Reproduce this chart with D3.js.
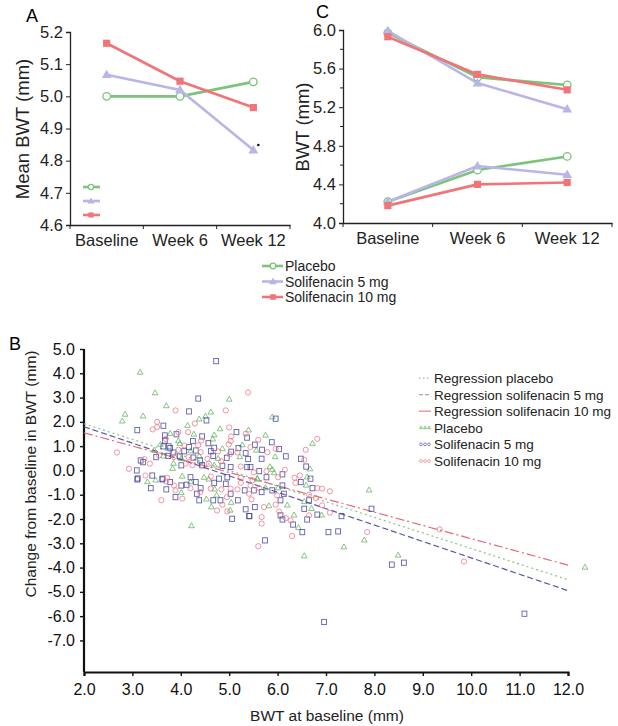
<!DOCTYPE html>
<html>
<head>
<meta charset="utf-8">
<script src="https://cdn.jsdelivr.net/npm/d3@7"></script>
<style>
  body { margin: 0; background: #fff; }
  svg { font-family: "Liberation Sans", Arial, sans-serif; }
  .axis path, .axis line { stroke: #222; }
</style>
</head>
<body>
<svg width="618" height="726"></svg>
<script>
// ---- data ----
const timepoints = ["Baseline", "Week 6", "Week 12"];
const groups = ["Placebo", "Solifenacin 5 mg", "Solifenacin 10 mg"];

// panel A: mean BWT
const meanPlacebo = [5.00, 5.00, 5.045];
const meanSol5 = [5.067, 5.02, 4.833];
const meanSol10 = [5.165, 5.047, 4.965];

// panel C: upper and lower BWT groups
const highPlacebo = [5.97, 5.51, 5.43];
const highSol5 = [5.99, 5.45, 5.18];
const highSol10 = [5.93, 5.54, 5.38];
const lowPlacebo = [4.22, 4.55, 4.69];
const lowSol5 = [4.22, 4.59, 4.50];
const lowSol10 = [4.18, 4.40, 4.42];

// panel B: regression line end points (x = 2 and x = 12)
const regX = [2, 12];
const regPlacebo = [1.92, -4.5];
const regSol5 = [1.8, -4.95];
const regSol10 = [1.55, -3.9];

// panel B scatter [BWT at baseline, change]
const ptsPlacebo = [
  [3.16,4.03],[3.47,3.18],[5.00,2.92],[3.70,2.65],[4.62,2.39],[2.85,2.30],[3.22,2.23],[4.51,2.22],
  [2.79,2.02],[4.38,2.10],[4.14,1.84],[4.81,1.70],[5.40,1.65],[3.78,1.51],[4.27,1.48],[4.69,1.45],
  [3.95,1.21],[4.66,1.28],[3.58,1.06],[3.98,1.10],[5.27,1.04],[3.45,0.82],[4.20,0.79],[4.86,0.88],
  [3.64,0.58],[4.01,0.48],[4.38,0.58],[4.77,0.48],[5.22,0.55],[3.85,0.28],[4.69,0.21],[3.83,0.07],
  [4.03,-0.25],[4.48,-0.30],[5.89,2.19],[5.75,1.44],[6.72,1.10],[5.56,0.82],[5.95,0.55],[6.67,0.05],
  [5.84,0.14],[5.89,0.03],[5.93,-0.11],[6.61,-0.28],[5.58,-0.34],[3.31,-0.48],[3.48,-0.41],[4.01,-0.92],
  [4.20,-0.48],[4.53,-1.19],[4.70,-0.78],[4.74,-1.03],[4.63,-1.51],[5.04,-1.33],[5.02,-1.65],[4.22,-2.29],
  [4.58,-0.37],[5.58,-0.37],[5.75,-0.73],[6.01,-0.73],[6.59,-0.62],[7.89,-0.82],[6.55,-1.30],[5.82,-1.47],
  [6.20,-1.44],[6.70,-1.58],[6.34,-1.85],[6.91,-1.85],[6.43,-2.37],[7.79,-2.88],[7.37,-3.16],[6.55,-3.53],
  [8.49,-3.50],[12.35,-4.0]
];
const ptsSol5 = [
  [4.73,4.50],[4.36,2.96],[4.17,2.43],[4.53,2.06],[3.10,1.66],[3.64,1.84],[3.67,1.44],[3.91,1.49],
  [4.44,1.40],[5.15,1.58],[3.67,1.23],[4.25,1.21],[4.57,1.12],[5.37,1.35],[3.64,0.99],[3.75,0.99],
  [3.78,0.92],[4.17,0.96],[4.69,0.93],[5.19,0.92],[3.85,0.74],[4.07,0.79],[4.31,0.82],[4.62,0.79],
  [5.04,0.77],[5.34,0.71],[3.49,0.55],[3.74,0.60],[3.98,0.58],[4.26,0.53],[4.40,0.41],[4.67,0.60],
  [4.95,0.52],[5.39,0.47],[3.17,0.41],[3.22,0.34],[4.01,0.21],[4.44,0.21],[4.86,0.19],[5.03,0.14],
  [5.37,0.14],[3.09,0.00],[3.41,-0.21],[3.11,-0.33],[3.62,-0.34],[4.20,-0.28],[4.79,-0.34],[4.96,-0.28],
  [5.96,2.13],[5.88,1.16],[5.53,1.06],[5.68,0.85],[6.03,0.88],[6.17,0.58],[5.67,0.48],[6.48,0.48],
  [6.59,0.16],[6.10,-0.16],[5.62,-0.03],[5.44,0.14],[5.77,-0.28],[6.68,-0.34],[3.10,-0.37],[3.38,-0.73],
  [3.62,-0.37],[3.70,-0.78],[3.78,-0.48],[4.01,-0.62],[4.12,-0.59],[4.31,-0.48],[4.41,-0.73],[4.33,-0.96],
  [3.89,-1.10],[4.38,-1.23],[4.69,-0.51],[4.93,-0.55],[4.82,-1.23],[4.67,-1.23],[5.03,-0.96],[5.18,-1.23],
  [5.32,-0.82],[5.34,-1.60],[5.41,-1.88],[5.06,-1.99],[5.51,-0.82],[5.67,-0.89],[5.89,-0.82],[6.10,-0.62],
  [6.13,-0.96],[6.48,-0.48],[6.72,-0.73],[6.65,-1.23],[6.06,-1.23],[5.53,-1.51],[6.55,-1.58],[6.06,-1.85],
  [6.10,-2.02],[6.82,-1.82],[7.32,-1.88],[6.61,-2.02],[5.42,-1.88],[6.32,-2.23],[7.94,-1.58],[6.51,-2.54],
  [7.05,-2.54],[7.25,-2.51],[5.74,-2.88],[8.36,-3.88],[8.61,-3.80],[6.96,-6.24],[11.1,-5.9]
];
const ptsSol10 = [
  [5.39,3.21],[3.89,2.47],[4.93,2.47],[3.51,2.00],[4.29,1.93],[3.42,1.69],[3.51,1.78],[5.00,1.77],
  [3.95,1.58],[4.15,1.58],[5.34,1.51],[3.69,1.30],[4.42,1.23],[5.04,1.40],[5.03,1.21],[4.07,1.03],
  [4.36,1.04],[4.99,1.07],[5.44,0.96],[2.68,0.74],[3.95,0.85],[4.41,0.75],[4.77,0.78],[5.17,0.74],
  [3.55,0.62],[3.86,0.55],[4.16,0.55],[4.55,0.48],[4.83,0.38],[5.01,0.66],[3.25,0.47],[3.36,0.28],
  [4.10,0.28],[4.24,0.21],[4.58,0.28],[5.24,0.16],[2.93,0.07],[3.27,-0.21],[3.72,-0.30],[4.62,-0.25],
  [5.24,-0.30],[5.60,1.26],[6.82,1.30],[5.79,0.75],[5.96,0.89],[6.58,0.85],[6.55,0.44],[6.15,0.03],
  [5.77,-0.03],[5.51,-0.08],[6.01,-0.28],[6.35,-0.30],[6.46,-0.21],[3.69,-0.45],[3.86,-0.62],[3.89,-0.82],
  [4.20,-0.73],[4.40,-0.89],[3.60,-1.23],[4.03,-1.16],[4.62,-0.75],[4.84,-0.78],[4.86,-1.41],[4.75,-1.65],
  [4.95,-1.10],[5.03,-0.75],[5.17,-0.78],[5.24,-0.51],[5.41,-0.96],[4.96,-1.69],[5.44,-0.62],[5.48,-0.41],
  [5.62,-0.73],[5.99,-1.03],[6.37,-0.51],[6.82,-0.73],[6.92,-0.75],[7.08,-0.86],[6.65,-1.00],[6.79,-1.14],
  [5.46,-1.19],[5.72,-1.51],[5.96,-1.41],[6.92,-1.44],[6.03,-1.69],[6.17,-1.96],[6.27,-2.06],[7.08,-1.74],
  [6.65,-1.85],[5.67,-1.92],[5.67,-2.19],[6.30,-2.70],[7.85,-2.54],[5.60,-3.12],[9.35,-2.43],[9.85,-3.75]
];

const GREEN = "#7cc47a", LAV = "#b9b5e6", RED = "#f07478";

var svg = d3.select("svg");
svg.append("rect").attr("width", 618).attr("height", 726).attr("fill", "#fff");

function marker(g, kind, color, x, y, s) {
  if (kind == "circle") {
    g.append("circle").attr("cx", x).attr("cy", y).attr("r", s)
      .attr("fill", "#fff").attr("stroke", color).attr("stroke-width", 1.3);
  } else if (kind == "tri") {
    g.append("path").attr("d", d3.symbol(d3.symbolTriangle, s * s * 3.2)())
      .attr("transform", "translate(" + x + "," + (y + 0.5) + ")").attr("fill", color);
  } else {
    g.append("rect").attr("x", x - s).attr("y", y - s).attr("width", s * 2).attr("height", s * 2)
      .attr("fill", color);
  }
}

function linePanel(opts) {
  var g = svg.append("g");
  var x = d3.scaleBand().domain(timepoints).range(opts.xr);
  var y = d3.scaleLinear().domain(opts.yd).range(opts.yr);

  var ya = g.append("g").attr("class", "axis")
    .attr("transform", "translate(" + opts.xr[0] + ",0)")
    .call(d3.axisLeft(y).tickValues(opts.ticks).tickSize(4).tickPadding(3)
      .tickFormat(d3.format(".1f")));
  ya.selectAll("text").attr("font-size", 16.5).attr("fill", "#222");
  ya.select(".domain").attr("stroke-width", 1.3);
  if (opts.minor) {
    ya.selectAll(".minor").data(opts.minor).enter().append("line")
      .attr("x2", -3).attr("y1", d => y(d)).attr("y2", d => y(d)).attr("stroke", "#222");
  }

  var xa = g.append("g").attr("class", "axis")
    .attr("transform", "translate(0," + opts.yr[0] + ")")
    .call(d3.axisBottom(x).tickSize(0).tickPadding(9));
  xa.selectAll("text").attr("font-size", 16.5).attr("fill", "#222");
  xa.select(".domain").attr("stroke-width", 1.3);
  var edges = timepoints.map(t => x(t)).concat([opts.xr[1]]);
  xa.selectAll(".edge").data(edges).enter().append("line")
    .attr("x1", d => d).attr("x2", d => d).attr("y2", 4).attr("stroke", "#222");

  var line = d3.line().x((d, i) => x(timepoints[i]) + x.bandwidth() / 2).y(d => y(d));
  var kinds = ["circle", "tri", "square"];
  var colors = [GREEN, LAV, RED];
  opts.series.forEach(function (s) {
    g.append("path").datum(s.v).attr("d", line).attr("fill", "none")
      .attr("stroke", colors[s.k]).attr("stroke-width", 2.6);
  });
  opts.series.forEach(function (s) {
    s.v.forEach(function (v, i) {
      marker(g, kinds[s.k], colors[s.k], x(timepoints[i]) + x.bandwidth() / 2, y(v), s.k == 0 ? 3.8 : 3.6);
    });
  });
  return { g: g, x: x, y: y };
}

// ---- panel A ----
var pa = linePanel({
  xr: [70, 290], yr: [225, 32], yd: [4.6, 5.2],
  ticks: d3.range(4.6, 5.21, 0.1),
  series: [{ v: meanPlacebo, k: 0 }, { v: meanSol5, k: 1 }, { v: meanSol10, k: 2 }]
});
svg.append("text").attr("x", 26).attr("y", 22).attr("font-size", 18).text("A");
svg.append("text").attr("transform", "translate(29,129) rotate(-90)")
  .attr("text-anchor", "middle").attr("font-size", 18.5).attr("fill", "#222").text("Mean BWT (mm)");
// significance mark next to week 12
pa.g.append("circle").attr("cx", pa.x("Week 12") + pa.x.bandwidth() / 2 + 5)
  .attr("cy", pa.y(meanSol5[2]) - 5).attr("r", 1.3).attr("fill", "#111");
// stray legend keys inside panel A
[GREEN, LAV, RED].forEach(function (c, i) {
  var yy = 187 + i * 14;
  svg.append("line").attr("x1", 83).attr("x2", 100).attr("y1", yy).attr("y2", yy)
    .attr("stroke", c).attr("stroke-width", 2.6);
  marker(svg, ["circle", "tri", "square"][i], c, 91, yy, 2.6);
});

// ---- panel C ----
linePanel({
  xr: [343, 612], yr: [223, 30], yd: [4.0, 6.0],
  ticks: d3.range(4.0, 6.01, 0.4),
  minor: d3.range(4.2, 6.0, 0.4),
  series: [{ v: highPlacebo, k: 0 }, { v: highSol5, k: 1 }, { v: highSol10, k: 2 },
           { v: lowPlacebo, k: 0 }, { v: lowSol5, k: 1 }, { v: lowSol10, k: 2 }]
});
svg.append("text").attr("x", 316).attr("y", 18).attr("font-size", 18).text("C");
svg.append("text").attr("transform", "translate(309,127) rotate(-90)")
  .attr("text-anchor", "middle").attr("font-size", 18.5).attr("fill", "#222").text("BWT (mm)");

// ---- shared legend ----
groups.forEach(function (name, i) {
  var yy = 266 + i * 15.5;
  var c = [GREEN, LAV, RED][i];
  svg.append("line").attr("x1", 262).attr("x2", 283).attr("y1", yy).attr("y2", yy)
    .attr("stroke", c).attr("stroke-width", 2.6);
  marker(svg, ["circle", "tri", "square"][i], c, 273, yy, 2.8);
  svg.append("text").attr("x", 285).attr("y", yy + 5).attr("font-size", 14).attr("fill", "#222").text(name);
});

// ---- panel B ----
var bx = d3.scaleLinear().domain([2, 12]).range([84, 568]);
var by = d3.scaleLinear().domain([-8.3, 5]).range([672, 349]);
var gb = svg.append("g");
svg.append("text").attr("x", 9).attr("y", 350).attr("font-size", 18).text("B");

var bxa = gb.append("g").attr("transform", "translate(0,672)")
  .call(d3.axisBottom(bx).tickValues(d3.range(2, 12.01, 1)).tickSize(4).tickPadding(8)
    .tickFormat(d3.format(".1f")));
var bya = gb.append("g").attr("transform", "translate(84,0)")
  .call(d3.axisLeft(by).tickValues(d3.range(-7, 5.01, 1)).tickSize(4).tickPadding(5)
    .tickFormat(d => d3.format(".1f")(d).replace("\u2212", "-")));
[bxa, bya].forEach(function (a) {
  a.selectAll("text").attr("font-size", 16).attr("fill", "#111");
  a.select(".domain").attr("stroke", "#111").attr("stroke-width", 2.2);
  a.selectAll(".tick line").attr("stroke", "#111").attr("stroke-width", 1.4);
});
bya.select(".domain").attr("d", "M-0,349V672");
svg.append("text").attr("x", 327).attr("y", 721).attr("text-anchor", "middle")
  .attr("font-size", 15.5).attr("fill", "#222").text("BWT at baseline (mm)");
svg.append("text").attr("transform", "translate(36,474) rotate(-90)")
  .attr("text-anchor", "middle").attr("font-size", 15.5).attr("fill", "#222")
  .text("Change from baseline in BWT (mm)");

// regression lines
var regs = [
  { v: regPlacebo, c: "#86c486", dash: "2,3" },
  { v: regSol5, c: "#5858a8", dash: "6,3" },
  { v: regSol10, c: "#e46a78", dash: "9,3,2,3" }
];
regs.forEach(function (r) {
  gb.append("line").attr("x1", bx(regX[0])).attr("x2", bx(regX[1]))
    .attr("y1", by(r.v[0])).attr("y2", by(r.v[1]))
    .attr("stroke", r.c).attr("stroke-width", 1.2).attr("stroke-dasharray", r.dash);
});

// scatter
gb.selectAll(".p0").data(ptsPlacebo).enter().append("path")
  .attr("d", d3.symbol(d3.symbolTriangle, 14)())
  .attr("transform", d => "translate(" + bx(d[0]) + "," + by(d[1]) + ")")
  .attr("fill", "none").attr("stroke", "#5fb35f").attr("stroke-width", 0.9).attr("opacity", 0.85);
gb.selectAll(".p1").data(ptsSol5).enter().append("rect")
  .attr("x", d => bx(d[0]) - 2.4).attr("y", d => by(d[1]) - 2.6).attr("width", 4.8).attr("height", 5.2)
  .attr("fill", "none").attr("stroke", "#3a3a98").attr("stroke-width", 0.9).attr("opacity", 0.8);
gb.selectAll(".p2").data(ptsSol10).enter().append("circle")
  .attr("cx", d => bx(d[0])).attr("cy", d => by(d[1])).attr("r", 2.6)
  .attr("fill", "none").attr("stroke", "#ee7482").attr("stroke-width", 0.9).attr("opacity", 0.85);

// legend B
var legB = svg.append("g").attr("transform", "translate(418,378)");
var legItems = [
  { t: "Regression placebo", c: "#bbbbbb", dash: "1.5,2.5" },
  { t: "Regression solifenacin 5 mg", c: "#aaaaaa", dash: "4,2" },
  { t: "Regression solifenacin 10 mg", c: "#e58a92", dash: null },
  { t: "Placebo", c: "#6cbb6c", sym: "tri" },
  { t: "Solifenacin 5 mg", c: "#6a6ab0", sym: "sq" },
  { t: "Solifenacin 10 mg", c: "#ef8f99", sym: "circ" }
];
legItems.forEach(function (d, i) {
  var yy = i * 16.6;
  if (d.sym) {
    [2, 6, 10].forEach(function (dx) {
      if (d.sym == "tri") {
        legB.append("path").attr("d", d3.symbol(d3.symbolTriangle, 4)())
          .attr("transform", "translate(" + (dx + 1) + "," + yy + ")")
          .attr("fill", "none").attr("stroke", d.c).attr("stroke-width", 0.8);
      } else {
        legB.append("circle").attr("cx", dx + 1).attr("cy", yy).attr("r", 1.4)
          .attr("fill", "none").attr("stroke", d.c).attr("stroke-width", 0.8);
      }
    });
  } else {
    legB.append("line").attr("x1", 1).attr("x2", 13).attr("y1", yy).attr("y2", yy)
      .attr("stroke", d.c).attr("stroke-width", 1.3).attr("stroke-dasharray", d.dash);
  }
  legB.append("text").attr("x", 16).attr("y", yy + 5).attr("font-size", 13.5)
    .attr("fill", "#222").text(d.t);
});
</script>
</body>
</html>
